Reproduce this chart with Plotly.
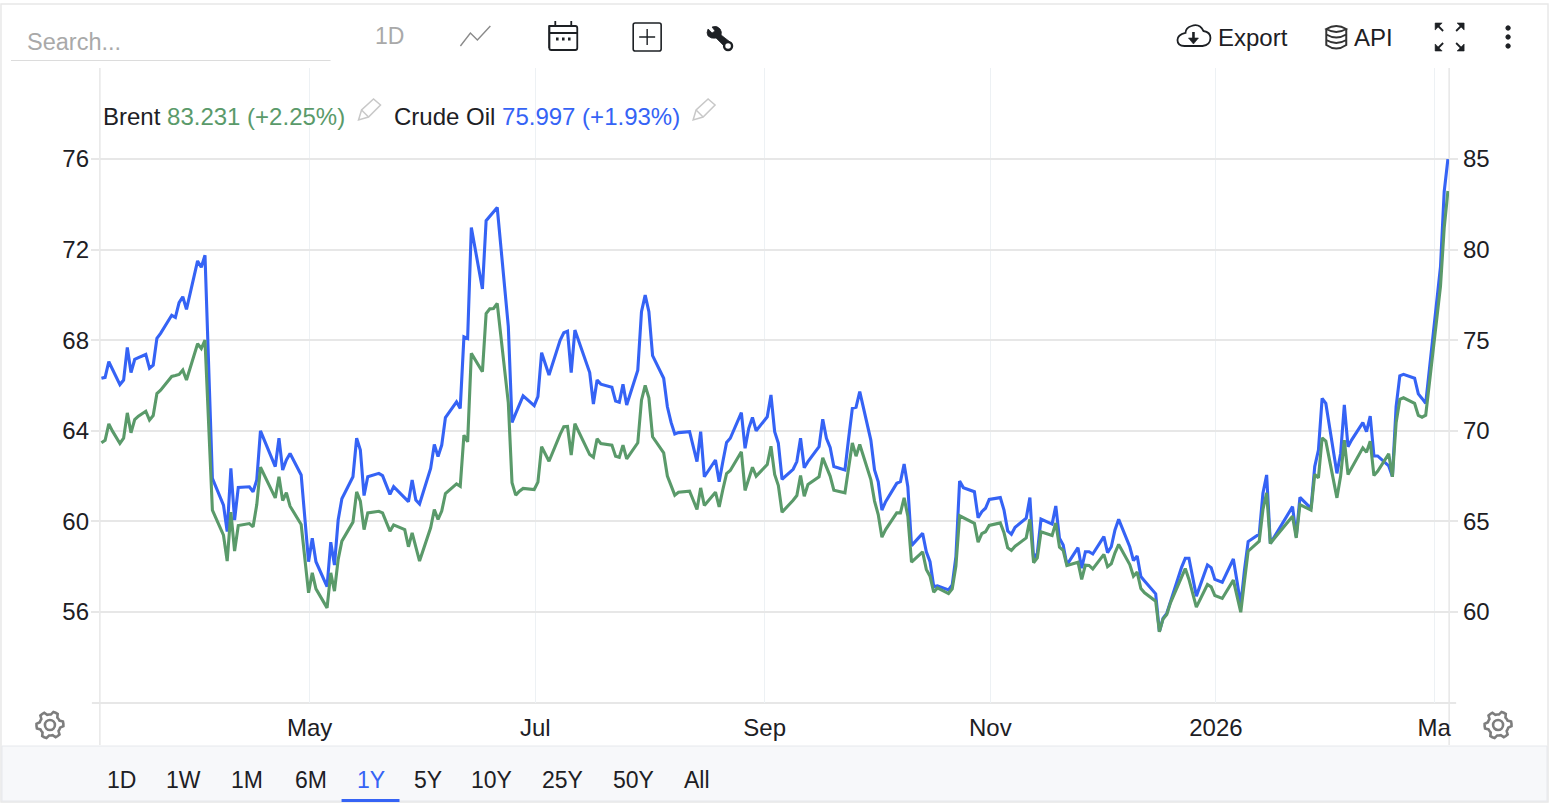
import re

import numpy as np
import pandas as pd
import plotly.graph_objects as go

# trading days per month, stamps fall late in the day on the date axis
trade_days = {
    "2025-03": [5, 6, 7, 8, 10, 11, 12, 13, 14, 15, 17, 18, 19, 20, 21, 24, 25, 26, 27, 28, 31],
    "2025-04": [1, 2, 4, 7, 8, 9, 10, 11, 14, 15, 16, 17, 21, 22, 23, 24, 25, 28, 30],
    "2025-05": [1, 2, 5, 6, 7, 8, 9, 12, 13, 14, 15, 16, 19, 20, 22, 23, 26, 27, 28, 29, 30],
    "2025-06": [2, 3, 4, 5, 6, 9, 10, 11, 12, 13, 16, 17, 18, 19, 20, 23, 24, 25, 26, 27, 30],
    "2025-07": [1, 2, 3, 4, 7, 8, 9, 10, 11, 14, 15, 16, 17, 18, 21, 22, 23, 24, 25, 28, 29, 30, 31],
    "2025-08": [1, 4, 5, 6, 7, 8, 11, 12, 13, 14, 15, 18, 19, 20, 21, 22, 25, 26, 27, 28, 29],
    "2025-09": [1, 2, 3, 4, 5, 8, 9, 10, 11, 12, 15, 16, 17, 18, 19, 22, 23, 24, 25, 26, 29, 30],
    "2025-10": [1, 2, 3, 6, 7, 8, 9, 10, 13, 14, 15, 16, 17, 20, 21, 22, 23, 24, 27, 28, 29, 30, 31],
    "2025-11": [3, 4, 5, 6, 7, 10, 11, 12, 13, 14, 17, 18, 19, 20, 21, 24, 25, 26, 27, 28],
    "2025-12": [1, 2, 3, 4, 5, 8, 9, 10, 11, 12, 15, 16, 17, 18, 19, 22, 23, 24, 26, 29, 30, 31],
    "2026-01": [2, 5, 6, 7, 8, 9, 12, 13, 14, 15, 16, 20, 21, 22, 23, 26, 27, 28, 29, 30],
    "2026-02": [2, 3, 4, 5, 6, 9, 10, 11, 12, 13, 16, 17, 18, 19, 20, 23, 24, 25, 26],
    "2026-03": [2, 3, 4],
}

crude = [
    66.32, 66.36, 67.05, 66.71, 66.04, 66.24, 67.68, 66.57, 67.15, 67.23, 67.37, 66.76, 66.90, 68.08, 68.30, 69.10, 69.01, 69.66, 69.92, 69.36, 71.50,
    71.22, 71.75, 61.90, 60.72, 59.55, 62.34, 60.06, 61.50, 61.53, 61.31, 61.83, 64.0, 62.42, 63.67, 62.27, 62.71, 63.0, 62.05, 58.22,
    59.25, 58.22, 57.12, 59.08, 58.07, 60.06, 61.0, 61.97, 63.67, 63.15, 61.14, 61.97, 62.12, 62.02, 61.19, 61.53, 61.05, 60.87, 61.83, 60.94, 60.77,
    62.34, 63.40, 62.86, 63.37, 64.58, 65.28, 64.99, 68.15, 68.08, 72.98, 70.26, 73.28, 73.48, 73.67, 73.86, 68.60, 64.37, 64.77, 65.14, 65.54, 65.11,
    65.51, 67.45, 66.98, 66.46, 68.0, 68.33, 68.40, 66.57, 68.45, 67.04, 66.57, 65.18, 66.24, 66.06, 65.92, 65.31, 65.26, 66.05, 65.14, 66.68, 69.26, 69.99, 69.26,
    67.32, 66.32, 65.06, 64.37, 63.86, 63.92, 63.96, 63.3, 62.64, 63.96, 61.97, 62.71, 61.75, 62.64, 63.48, 63.67, 64.80, 63.23, 64.11, 64.59, 64.0,
    64.62, 65.58, 63.96, 63.45, 61.86, 62.3, 62.64, 63.67, 62.37, 62.64, 63.3, 64.51, 63.67, 63.27, 62.42, 62.27, 63.67, 64.99, 65.04, 65.73, 63.59, 62.27,
    61.75, 60.50, 60.87, 61.68, 61.75, 62.53, 61.53, 58.93, 59.47, 58.66, 58.22, 57.12, 57.15, 56.97, 57.19, 58.44, 61.78, 61.49, 61.31, 60.16, 60.43, 60.58, 60.97,
    61.05, 60.5, 59.58, 59.43, 59.74, 60.14, 61.05, 58.37, 58.59, 60.1, 59.88, 60.68, 59.25, 58.96, 58.08, 58.84, 57.93, 58.66, 58.66, 58.56,
    59.33, 58.62, 58.88, 59.62, 60.09, 58.88, 58.27, 58.47, 57.56, 57.37, 56.8, 55.13, 55.72, 55.94, 56.46, 57.97, 58.37, 58.37, 56.7, 58.08, 57.96, 57.44,
    57.31, 58.34, 57.34, 56.31, 57.85, 59.11, 59.44, 61.24, 62.05, 59.03, 59.30, 60.38, 60.65, 59.33, 61.06, 60.57, 62.42, 63.15, 65.43, 65.21,
    62.12, 63.0, 65.14, 63.3, 63.6, 64.36, 63.96, 64.65, 62.89, 62.89, 62.45, 61.98, 65.07, 66.43, 66.49, 66.32, 65.63, 65.43, 65.21,
    71.25, 74.56, 75.997,
]

brent = [
    69.34, 69.48, 70.38, 69.98, 69.30, 69.59, 70.99, 69.89, 70.62, 70.81, 71.08, 70.59, 70.84, 72.06, 72.24, 73.0, 73.05, 73.11, 73.35, 72.80, 74.80,
    74.54, 75.0, 65.62, 64.24, 62.81, 65.51, 63.36, 64.77, 64.88, 64.70, 65.93, 67.99, 66.30, 67.46, 66.15, 66.58, 65.84, 64.83, 61.06,
    62.16, 61.28, 60.23, 62.16, 61.15, 62.9, 63.91, 64.96, 66.63, 66.12, 64.55, 65.47, 65.56, 65.47, 64.46, 64.81, 64.55, 63.60, 64.37, 63.6, 62.81,
    64.65, 65.66, 65.11, 65.57, 66.54, 67.07, 66.94, 69.76, 69.39, 74.27, 73.26, 76.47, 76.73, 76.75, 77.03, 71.54, 67.13, 66.45, 66.67, 66.82, 66.76,
    67.17, 69.12, 68.69, 68.32, 69.8, 70.22, 70.24, 68.66, 70.39, 69.12, 68.69, 68.54, 69.56, 69.30, 69.21, 68.60, 68.54, 69.21, 68.45, 69.34, 71.69, 72.5, 71.82,
    69.67, 68.78, 67.5, 66.91, 66.45, 66.61, 66.67, 66.17, 65.66, 66.85, 65.88, 66.61, 65.80, 66.76, 67.64, 67.81, 68.84, 66.71, 67.40, 67.99, 67.50,
    68.14, 69.15, 67.59, 66.98, 65.51, 66.17, 66.43, 67.53, 66.39, 67.04, 67.46, 68.51, 68.05, 67.50, 66.72, 66.58, 67.96, 69.33, 68.60, 69.24, 67.31, 66.12,
    65.38, 64.13, 64.55, 65.47, 65.47, 66.3, 65.29, 62.75, 63.32, 62.35, 61.98, 61.09, 61.33, 61.02, 61.28, 62.53, 65.31, 65.2, 64.89, 63.86, 64.33, 64.43, 64.78,
    64.92, 64.37, 63.54, 63.40, 63.63, 64.09, 65.11, 62.72, 62.99, 64.43, 64.22, 64.92, 63.58, 63.40, 62.57, 62.75, 61.8, 62.59, 62.57, 62.38,
    63.18, 62.5, 62.66, 63.27, 63.73, 62.62, 61.98, 62.2, 61.3, 61.06, 60.6, 58.91, 59.62, 59.86, 60.51, 61.94, 62.4, 61.8, 60.27, 61.52, 61.39, 60.91,
    60.75, 61.76, 60.87, 59.99, 61.7, 63.36, 63.91, 65.66, 66.58, 63.78, 64.04, 65.05, 65.29, 64.09, 65.93, 65.62, 67.59, 67.4, 69.61, 69.43,
    66.3, 67.5, 69.48, 67.59, 67.96, 69.06, 68.82, 69.43, 67.53, 67.77, 68.73, 67.46, 70.44, 71.73, 71.82, 71.51, 70.85, 70.75, 70.86,
    77.98, 81.2, 83.231,
]

left_ticks = [56, 60, 64, 68, 72, 76]
right_ticks = [60, 65, 70, 75, 80, 85]
month_ticks = ["2025-05-01", "2025-07-01", "2025-09-01", "2025-11-01", "2026-01-01", "2026-03-01"]
month_labels = ["May", "Jul", "Sep", "Nov", "2026", "Ma"]
range_buttons = ["1D", "1W", "1M", "6M", "1Y", "5Y", "10Y", "25Y", "50Y", "All"]

W, H = 1556, 806
BLUE = "#3563f5"
GREEN = "#5a9a6a"
GRID = "#e7e7e7"
VGRID = "#edf1f4"
INK = "#1d2024"
FONT = "Liberation Sans"

dates = [pd.Timestamp(f"{m}-{d:02d}") + pd.Timedelta(hours=17) for m, days in trade_days.items() for d in days]


def X(x):
    return x / W


def Y(y):
    return 1 - y / H


def pth(d):
    # pixel path (M L C Q Z only) to paper coordinates
    tok = re.findall(r"[MLCQZ]|-?\d+\.?\d*", d)
    out, i = [], 0
    while i < len(tok):
        if tok[i].isalpha():
            out.append(tok[i])
            i += 1
        else:
            out.append(f"{X(float(tok[i])):.5f},{Y(float(tok[i + 1])):.5f}")
            i += 2
    return " ".join(out)


shapes = []
annots = []


def shape_path(d, color=INK, width=2, fill=None, layer="above"):
    shapes.append(dict(type="path", path=pth(d), xref="paper", yref="paper", layer=layer,
                       line=dict(color=color, width=width), fillcolor=fill or "rgba(0,0,0,0)"))


def rect(x0, y0, x1, y1, fill=None, color=None, width=0, layer="below"):
    shapes.append(dict(type="rect", xref="paper", yref="paper", x0=X(x0), x1=X(x1), y0=Y(y0), y1=Y(y1), layer=layer,
                       fillcolor=fill or "rgba(0,0,0,0)", line=dict(color=color or "rgba(0,0,0,0)", width=width)))


def circ(cx, cy, r, color=INK, width=2, fill=None):
    shapes.append(dict(type="circle", xref="paper", yref="paper", x0=X(cx - r), x1=X(cx + r), y0=Y(cy - r), y1=Y(cy + r),
                       layer="above", fillcolor=fill or "rgba(0,0,0,0)", line=dict(color=color, width=width)))


def label(x, y, text, size=24, color=INK, anchor="left"):
    annots.append(dict(x=X(x), y=Y(y), xref="paper", yref="paper", text=text, showarrow=False, xanchor=anchor,
                       yanchor="middle", font=dict(family=FONT, size=size, color=color)))


def gear(cx, cy):
    a = np.linspace(0, 2 * np.pi, 36, endpoint=False)
    r = np.where((np.arange(36) % 6) < 3, 13.5, 10.5)
    pts = [f"{cx + ri * np.sin(t + 0.26):.2f} {cy - ri * np.cos(t + 0.26):.2f}" for ri, t in zip(r, a)]
    shape_path("M" + " L".join(pts) + " Z", color="#7d7d7d", width=2.6)
    circ(cx, cy, 5, color="#7d7d7d", width=2.6)


def pencil(x, y):
    shape_path(f"M{x} {y + 21} L{x + 3} {y + 11} L{x + 15} {y} L{x + 22} {y + 6} L{x + 10} {y + 18} Z", color="#c8c8c8", width=1.5)
    shape_path(f"M{x + 3} {y + 11} L{x + 10} {y + 18}", color="#c8c8c8", width=1.5)


# card and bottom strip
rect(1, 4, 1550, 802, fill="white", color="#e8e8e8", width=1.5)
rect(2, 746, 1549, 801, fill="#f7f8fa", color="#e6e8ec", width=1)
rect(342, 799, 400, 802, fill=BLUE, layer="above")

# axis frame, runs past the plot into the tick label band
shape_path("M100 68 L100 745", color=GRID, width=1.5, layer="below")
shape_path("M1451 68 L1451 745", color=GRID, width=1.5, layer="below")
shape_path("M92 703 L1458 703", color=GRID, width=2.2, layer="below")

# toolbar
shape_path("M11 60.5 L331 60.5", color="#dcdcdc", width=1)
label(25, 42, "Search...", size=23.5, color="#a9a9a9")
label(373, 36, "1D", size=23, color="#a9a9a9")
shape_path("M461 46 L471 33 L478 40 L491 26", color="#8a8a8a", width=1.4)
shape_path("M550 26 L576 26 Q578 26 578 28 L578 48 Q578 50 576 50 L552 50 Q550 50 550 48 Z", width=1.8)
shape_path("M550 26 L550 48 M550 33 L578 33 M556 21 L556 26 M572 21 L572 26", width=1.8)
for dx in (558, 564, 570):
    rect(dx - 1.3, 37.5, dx + 1.3, 40.5, fill=INK, layer="above")
shape_path("M636 23 L660 23 Q662 23 662 25 L662 49 Q662 51 660 51 L636 51 Q634 51 634 49 L634 25 Q634 23 636 23 Z", width=1.6)
shape_path("M648 29 L648 45 M640 37 L656 37", width=1.4)
shape_path("M709 29 L713 33 L716 31 L713 27 Q718 25 721 29 Q723 32 722 35 L731 42 L726 47 L717 38 Q712 39 709 36 Q707 33 709 29 Z",
           width=0.8, fill=INK)
circ(729, 46, 4, width=2.4, fill="white")
shape_path("M1186 46 L1204 46 Q1212 45 1212 38 Q1212 32 1205 31 Q1201 23 1193 26 Q1187 28 1187 33 Q1179 35 1179 40 Q1179 46 1186 46 Z", width=1.8)
shape_path("M1195 32 L1195 40", width=2.6)
shape_path("M1190 38 L1200 38 L1195 44 Z", width=0.6, fill=INK)
label(1218, 37, "Export")
shape_path("M1328 29 Q1338 23 1348 29 Q1338 35 1328 29 Z M1328 29 L1328 45 Q1338 52 1348 45 L1348 29 M1328 34.5 Q1338 40.5 1348 34.5 M1328 40 Q1338 46 1348 40",
           width=2, color="#333333")
label(1354, 37, "API")
for sx, sy, cx, cy in ((-1, -1, 1437, 23), (1, -1, 1466, 23), (-1, 1, 1437, 51), (1, 1, 1466, 51)):
    shape_path(f"M{cx} {cy} L{cx - sx * 7} {cy} L{cx} {cy - sy * 7} Z", width=0.6, fill=INK)
    shape_path(f"M{cx - sx * 3} {cy - sy * 3} L{cx - sx * 8} {cy - sy * 8}", width=1.8)
for dy in (28, 37, 46):
    circ(1510, dy, 2.2, width=1, fill=INK)

# legend line
label(101, 117, f'Brent <span style="color:{GREEN}">83.231 (+2.25%)</span>', size=24)
pencil(359, 99)
label(393, 117, f'Crude Oil <span style="color:{BLUE}">75.997 (+1.93%)</span>', size=24)
pencil(694, 99)

gear(50, 725)
gear(1500, 725)

# range buttons
button_x = [122, 184, 247, 311, 371, 429, 492, 563, 634, 698]
for txt, bx in zip(range_buttons, button_x):
    label(bx, 780, txt, size=23, color=BLUE if txt == "1Y" else INK, anchor="center")

fig = go.Figure()
fig.add_trace(go.Scatter(x=dates, y=crude, name="Crude Oil", mode="lines", yaxis="y",
                         line=dict(color=BLUE, width=3.1)))
fig.add_trace(go.Scatter(x=dates, y=brent, name="Brent", mode="lines", yaxis="y2",
                         line=dict(color=GREEN, width=3.1)))

fig.update_layout(
    width=W, height=H, margin=dict(l=0, r=0, t=0, b=0),
    paper_bgcolor="white", plot_bgcolor="rgba(0,0,0,0)", showlegend=False,
    font=dict(family=FONT, size=24, color=INK),
    shapes=shapes, annotations=annots,
    xaxis=dict(domain=[X(100), X(1451)], range=["2025-03-05 07:00", "2026-03-05 01:00"], type="date",
               tickmode="array", tickvals=month_ticks, ticktext=month_labels, ticks="",
               showgrid=True, gridcolor=VGRID, gridwidth=1, showline=False, zeroline=False,
               tickfont=dict(size=24, color=INK), ticklabelstandoff=8),
    yaxis=dict(domain=[Y(703), Y(68)], range=[51.98, 80.02], tickmode="array", tickvals=left_ticks,
               ticks="outside", ticklen=8, tickcolor=GRID, tickwidth=2, showgrid=True, gridcolor=GRID, gridwidth=2,
               showline=False, zeroline=False, tickfont=dict(size=24, color=INK), ticklabelstandoff=-3),
    yaxis2=dict(domain=[Y(703), Y(68)], range=[54.98, 90.02], overlaying="y", side="right", anchor="x",
                tickmode="array", tickvals=right_ticks, ticks="outside", ticklen=8, tickcolor=GRID, tickwidth=2,
                showgrid=False, showline=False, zeroline=False, tickfont=dict(size=24, color=INK)),
)

fig.write_html("out.html", config=dict(displayModeBar=False),
               post_script="document.body.style.margin='0';")
